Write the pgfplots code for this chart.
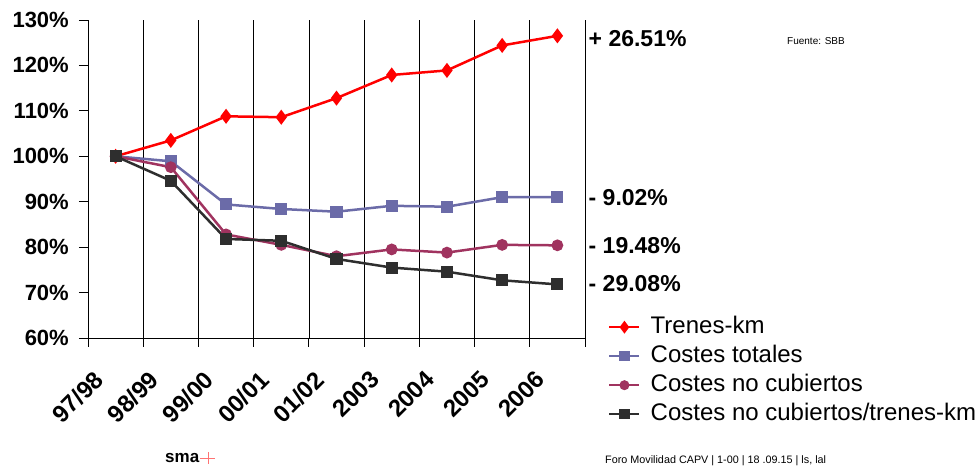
\documentclass[border=0pt]{standalone}
\usepackage{pgfplots}
\pgfplotsset{compat=1.18}
\usepackage{fontspec}
\setmainfont{Liberation Sans}

\definecolor{trenes}{HTML}{FF0000}
\definecolor{ctot}{HTML}{6B6BA8}
\definecolor{cnc}{HTML}{A0335F}
\definecolor{cnct}{HTML}{2E2E2E}

\begin{document}
\begin{tikzpicture}[x=1pt,y=1pt]
\begin{axis}[
  at={(88pt,130pt)}, anchor=south west,
  width=497pt, height=318pt, scale only axis,
  xmin=-0.5, xmax=8.5, ymin=60, ymax=130,
  axis lines=left,
  axis line style={-, black, line width=0.8pt},
  xtick={-0.5,0.5,...,8.5},
  xticklabels={97/98,98/99,99/00,00/01,01/02,2003,2004,2005,2006,{}},
  xmajorgrids, major x grid style={black, line width=0.7pt},
  ytick={60,70,...,130},
  yticklabel={\pgfmathprintnumber{\tick}\%},
  /pgf/number format/assume math mode=true,
  tick align=outside, major tick length=9pt,
  tick style={black, line width=0.8pt},
  yticklabel style={font=\bfseries\fontsize{22}{22}\selectfont, inner sep=0pt, xshift=-10pt},
  xticklabel style={font=\bfseries\fontsize{24}{24}\selectfont, inner sep=0pt,
    xshift=4.6pt, yshift=-22pt, rotate=45, anchor=north east},
  legend style={at={(axis description cs:1.0463,0.0755)}, anchor=north west,
    draw=none, fill=none, inner sep=0pt, row sep=3pt,
    font=\fontsize{24}{24}\selectfont,
    nodes={inner sep=2pt, text height=17pt, text depth=5pt},
    /tikz/every odd column/.append style={column sep=8pt},
    cells={anchor=west}},
  legend image code/.code={\draw[#1, mark repeat=2, mark phase=2, mark options={scale=0.8}]
    plot coordinates {(0pt,0pt)(15pt,0pt)(30pt,0pt)};},
  clip=false,
]
\addplot[trenes, line width=2.5pt, mark=diamond*, mark size=5.5pt]
  coordinates {(0,100) (1,103.5) (2,108.8) (3,108.6) (4,112.8) (5,117.9) (6,118.9) (7,124.4) (8,126.51)};
\addlegendentry{Trenes-km}
\addplot[ctot, line width=2.5pt, mark=square*, mark size=4.8pt]
  coordinates {(0,100) (1,98.9) (2,89.4) (3,88.4) (4,87.8) (5,89.1) (6,88.9) (7,91.0) (8,90.98)};
\addlegendentry{Costes totales}
\addplot[cnc, line width=2.5pt, mark=*, mark size=4.6pt]
  coordinates {(0,100) (1,97.6) (2,82.8) (3,80.5) (4,78.0) (5,79.5) (6,78.8) (7,80.5) (8,80.4)};
\addlegendentry{Costes no cubiertos}
\addplot[cnct, line width=2.5pt, mark=square*, mark size=4.8pt]
  coordinates {(0,100) (1,94.6) (2,81.8) (3,81.4) (4,77.4) (5,75.5) (6,74.6) (7,72.7) (8,71.8)};
\addlegendentry{Costes no cubiertos/trenes-km}

\begin{scope}[every node/.style={anchor=west, inner sep=0pt, xshift=3.5pt,
    font=\bfseries\fontsize{23}{23}\selectfont}]
\node at (axis cs:8.5,125.8) {+ 26.51\%};
\node at (axis cs:8.5,91.0) {- 9.02\%};
\node at (axis cs:8.5,80.4) {- 19.48\%};
\node at (axis cs:8.5,71.9) {- 29.08\%};
\end{scope}
\end{axis}

\node[anchor=west, inner sep=0pt, font=\fontsize{10}{10}\selectfont] at (787,427) {Fuente: SBB};
\node[anchor=west, inner sep=0pt, font=\fontsize{10.8}{10.8}\selectfont] at (605,7) {Foro Movilidad CAPV | 1-00 | 18 .09.15 | ls, lal};
\node[anchor=west, inner sep=0pt, font=\bfseries\fontsize{17}{17}\selectfont] at (165,10) {sma};
\draw[red!55, line width=0.5pt] (200,10) -- (215,10) (208,4) -- (208,16);

\pgfresetboundingbox
\path (0,0) rectangle (980,468);
\end{tikzpicture}
\end{document}
